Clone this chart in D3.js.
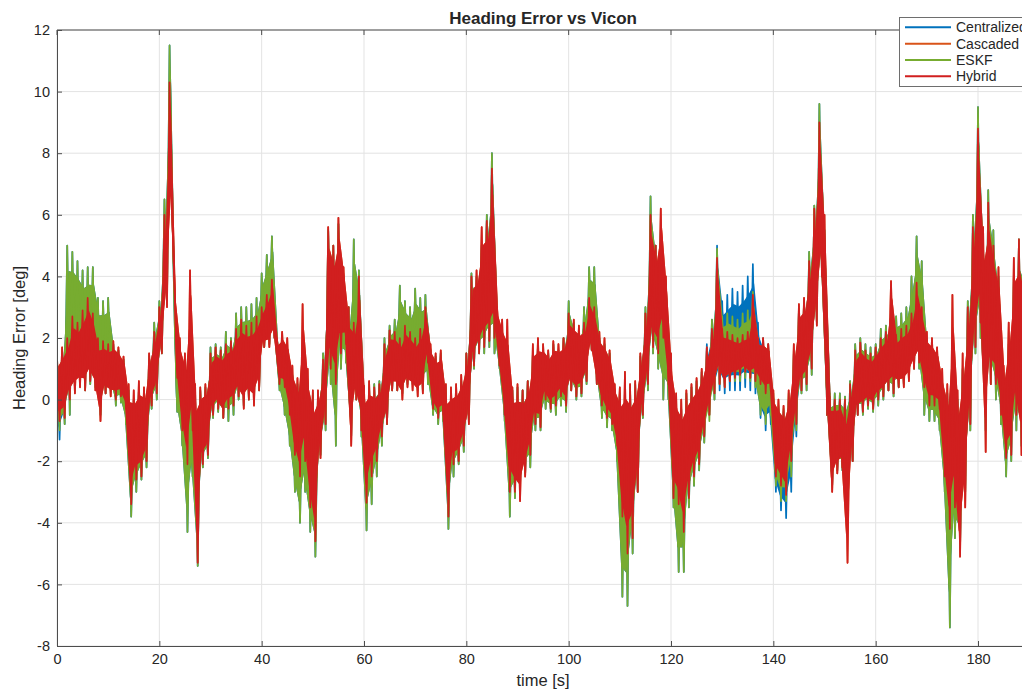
<!DOCTYPE html>
<html>
<head>
<meta charset="utf-8">
<script src="https://cdn.jsdelivr.net/npm/d3@7"></script>
<style>
  body { margin: 0; background: #fff; }
  text { font-family: "Liberation Sans", Arial, Helvetica, sans-serif; }
</style>
</head>
<body>
<div id="chart"></div>
<script>
// per-second envelopes (deg), t = 0..189 s
// hi is hit at the start of each second, lo half a second later
var seriesNames = ["Centralized", "Cascaded", "ESKF", "Hybrid"];
var seriesColors = ["#0072BD", "#D95319", "#77AC30", "#D11F1F"];
var xTicks = [0, 20, 40, 60, 80, 100, 120, 140, 160, 180];
var yTicks = [-8, -6, -4, -2, 0, 2, 4, 6, 8, 10, 12];

var hybridHi = [
  1.4, 1.7, 2.0, 2.7, 2.5, 2.9, 3.3, 2.8, 2.0, 1.9,
  1.8, 1.9, 1.7, 1.4, 0.5, 0.3, 0.6, 0.4, 1.5, 2.2,
  3.0, 6.0, 10.3, 3.6, 2.0, 1.5, 4.2, 0.5, 0.4, 0.5,
  1.5, 1.7, 1.6, 1.8, 1.9, 2.3, 2.6, 2.4, 2.5, 2.7,
  3.0, 3.4, 3.9, 2.0, 2.2, 2.0, 1.1, 0.7, 3.1, 1.0,
  0.3, 0.3, 1.3, 5.6, 5.0, 5.9, 4.3, 3.0, 2.5, 4.0,
  0.45, 0.6, 0.4, 0.5, 1.8, 2.25, 2.2, 2.0, 2.4, 2.2,
  2.0, 2.3, 3.0, 1.8, 1.5, 1.6, 0.5, 0.4, 0.5, 0.8,
  1.5, 4.0, 4.2, 5.6, 5.8, 7.5, 3.0, 2.6, 2.6, 0.4,
  0.5, 0.3, 0.6, 1.8, 2.0, 1.8, 1.6, 1.9, 1.8, 2.0,
  2.8, 2.6, 2.4, 2.5, 3.3, 3.0, 2.2, 2.0, 1.6, 0.5,
  0.4, 0.9, 0.5, 0.6, 1.5, 2.8, 6.0, 5.0, 6.2, 4.0,
  1.5, 0.2, 0.0, 0.3, 0.5, 0.7, 1.0, 1.7, 2.3, 4.6,
  2.3, 2.2, 2.1, 2.0, 2.1, 2.2, 3.4, 2.0, 2.0, 1.8,
  0.3, 0.0, -0.2, 0.3, 1.8, 3.1, 3.3, 4.5, 6.2, 9.0,
  6.0, 0.1, 0.0, 0.0, 0.0, 0.5, 1.6, 1.85, 1.6, 1.5,
  1.7, 2.0, 2.2, 3.85, 2.1, 2.3, 2.4, 2.8, 3.8, 3.0,
  2.2, 2.0, 1.7, 1.0, 0.5, 3.4, 0.3, 1.5, 3.0, 5.6,
  8.8, 5.6, 6.4, 5.0, 4.3, 1.1, 2.5, 4.6, 5.2, 4.0
];
var hybridLo = [
  -0.7, -0.6, 0.0, 0.2, 0.4, 0.3, 0.6, 0.3, -0.7, 0.2,
  0.1, 0.0, 0.1, -0.3, -3.4, -2.6, -2.5, -2.0, -0.2, 0.2,
  1.5, 3.0, 6.0, 0.7, -1.0, -2.1, -1.0, -5.3, -2.1, -1.8,
  -0.5, -0.3, -0.6, -0.3, -0.2, 0.1, -0.3, 0.0, -0.2, 0.3,
  1.7, 1.7, 2.0, 0.5, 0.4, -0.5, -1.8, -2.5, -2.0, -3.5,
  -4.6, -1.9, -0.8, 1.0, 0.5, 1.5, 1.8, -1.5, 0.0, -1.0,
  -3.35, -2.5, -2.0, -1.2, -0.8, 0.3, 0.3, 0.0, 0.4, 0.3,
  0.1, 0.2, 1.2, -0.3, -0.6, -0.5, -3.8, -2.1, -2.0, -1.5,
  -0.8, 1.1, 1.5, 1.7, 1.9, 2.0, 1.1, -0.5, -3.0, -3.0,
  -3.3, -2.5, -1.8, -0.8, -0.9, 0.0, -0.3, -0.2, 0.1, -0.2,
  0.3, 0.1, 0.2, 0.6, 1.6, 0.5, -0.2, -0.6, -0.8, -1.5,
  -3.8, -5.0, -4.5, -3.0, -0.5, 0.5, 1.7, 1.5, 2.0, 0.5,
  -3.2, -3.4, -4.3, -3.2, -2.5, -2.1, -1.2, -0.5, 0.2, 0.5,
  0.4, 0.6, 0.7, 0.8, 0.9, 0.7, 0.6, 0.5, 0.2, 0.3,
  -2.5, -2.8, -3.1, -2.0, -0.8, 0.3, 0.5, 1.0, 2.4, 4.0,
  -0.5, -3.0, -2.4, -2.2, -5.3, -2.0, -0.5, -0.4, -0.2, -0.3,
  0.0, 0.1, 0.3, 0.2, 0.4, 0.4, 0.6, 1.0, 1.2, 0.4,
  -0.2, -0.2, -0.3, -2.5, -4.2, -3.5, -5.1, -3.5, -0.8, 1.7,
  2.5, -1.7, 0.5, 0.5, -0.5, -1.9, -1.8, -0.5, -1.8, -1.0
];

var eskfHi = [
  1.3, 1.6, 5.0, 4.8, 4.5, 4.2, 4.3, 4.3, 3.3, 3.2,
  3.3, 1.8, 1.6, 1.3, 0.3, 0.0, 0.3, 0.2, 1.4, 2.5,
  3.2, 6.5, 11.5, 2.5, 1.5, 1.0, 0.5, 0.2, 0.3, 0.4,
  1.7, 1.8, 1.7, 2.2, 2.0, 2.8, 3.0, 3.0, 3.1, 3.3,
  4.1, 4.7, 5.3, 2.0, 1.8, 1.5, 0.8, 0.5, 1.0, 0.5,
  0.2, 0.2, 1.5, 5.5, 5.0, 5.7, 4.0, 3.0, 5.2, 4.2,
  0.3, 0.4, 0.5, 0.6, 2.0, 2.4, 2.6, 3.7, 3.2, 3.0,
  3.6, 3.3, 3.4, 1.6, 1.4, 1.5, 0.4, 0.2, 0.3, 0.6,
  1.5, 4.1, 4.0, 5.0, 6.0, 8.0, 2.5, 2.0, 1.5, 0.3,
  0.4, 0.3, 0.6, 1.5, 1.8, 1.6, 1.5, 1.8, 1.6, 2.0,
  3.2, 2.5, 2.2, 3.0, 4.3, 4.3, 2.0, 1.8, 1.5, 0.3,
  0.2, 0.5, 0.4, 0.5, 1.4, 3.0, 6.6, 5.0, 5.5, 3.8,
  1.0, -0.2, -0.3, 0.2, 0.4, 0.6, 0.9, 1.6, 2.6, 4.9,
  2.7, 2.8, 2.7, 2.6, 2.8, 2.9, 3.5, 2.0, 1.8, 1.6,
  0.2, -0.2, -0.3, 0.2, 1.6, 3.0, 3.2, 4.8, 6.3, 9.6,
  5.5, 0.2, 0.2, 0.2, 0.1, 0.6, 1.8, 2.0, 1.8, 1.7,
  1.8, 2.3, 2.4, 2.8, 2.7, 2.8, 3.0, 4.0, 5.3, 4.5,
  1.8, 1.7, 1.5, 0.5, 0.2, 0.8, 0.0, 1.0, 3.2, 6.0,
  9.5, 5.0, 6.8, 5.5, 4.0, 0.8, 1.8, 4.0, 5.2, 4.5
];
var eskfLo = [
  -1.0, -0.8, -0.5, 0.3, 0.5, 0.3, 0.5, 0.4, -0.5, 0.2,
  0.3, -0.2, -0.1, -0.8, -3.8, -3.0, -2.6, -2.2, -0.3, 0.0,
  1.5, 3.2, 6.5, -0.4, -1.5, -4.3, -2.5, -5.4, -2.2, -1.9,
  -0.6, -0.4, -0.6, -0.7, -0.5, 0.0, -0.2, 0.0, 0.0, 0.3,
  1.7, 1.8, 2.0, 0.3, -0.5, -1.5, -3.0, -4.0, -3.0, -4.3,
  -5.1, -1.8, -1.0, 0.5, -1.5, 1.0, 1.2, -1.2, 0.0, -1.2,
  -4.25, -3.4, -2.5, -1.5, -0.8, 0.3, 0.3, 0.2, 0.5, 0.5,
  0.3, 0.3, 0.5, -0.5, -0.8, -0.7, -4.2, -2.5, -2.1, -1.7,
  -0.7, 1.0, 1.5, 1.5, 1.7, 1.5, 1.0, -0.7, -3.8, -3.2,
  -2.8, -2.4, -2.2, -1.0, -1.0, -0.3, -0.4, -0.5, -0.2, -0.4,
  0.3, 0.0, 0.1, 0.5, 1.6, 0.5, -0.6, -0.9, -1.0, -2.0,
  -6.4, -6.7, -5.0, -3.0, -0.6, 0.3, 1.5, 1.0, 0.0, 0.0,
  -3.5, -5.6, -5.6, -3.5, -2.8, -2.3, -1.4, -0.7, 0.0, 0.5,
  0.4, 0.6, 0.6, 0.6, 0.7, 0.6, 0.4, -0.5, -0.8, -0.5,
  -2.8, -3.3, -3.3, -2.5, -1.0, 0.2, 0.3, 0.8, 2.5, 4.0,
  -0.5, -2.8, -2.3, -2.3, -3.0, -2.0, -0.5, -0.5, -0.3, -0.4,
  -0.2, 0.0, 0.3, 0.1, 0.4, 0.5, 0.8, 1.0, 1.0, -0.5,
  -0.7, -0.7, -1.0, -3.0, -7.4, -4.5, -4.8, -3.0, -1.0, 1.5,
  2.0, -1.0, 0.5, 0.0, -0.8, -2.5, -2.0, -1.0, -1.5, -1.0
];

// Centralized is hidden under ESKF except near t=0 and 127-144 s
var centralizedHi = [
  1.3, 1.6, 5.0, 4.8, 4.5, 4.2, 4.3, 4.3, 3.3, 3.2,
  3.3, 1.8, 1.6, 1.3, 0.3, 0.0, 0.3, 0.2, 1.4, 2.5,
  3.2, 6.5, 11.5, 2.5, 1.5, 1.0, 0.5, 0.2, 0.3, 0.4,
  1.7, 1.8, 1.7, 2.2, 2.0, 2.8, 3.0, 3.0, 3.1, 3.3,
  4.1, 4.7, 5.3, 2.0, 1.8, 1.5, 0.8, 0.5, 1.0, 0.5,
  0.2, 0.2, 1.5, 5.5, 5.0, 5.7, 4.0, 3.0, 5.2, 4.2,
  0.3, 0.4, 0.5, 0.6, 2.0, 2.4, 2.6, 3.7, 3.2, 3.0,
  3.6, 3.3, 3.4, 1.6, 1.4, 1.5, 0.4, 0.2, 0.3, 0.6,
  1.5, 4.1, 4.0, 5.0, 6.0, 8.0, 2.5, 2.0, 1.5, 0.3,
  0.4, 0.3, 0.6, 1.5, 1.8, 1.6, 1.5, 1.8, 1.6, 2.0,
  3.2, 2.5, 2.2, 3.0, 4.3, 4.3, 2.0, 1.8, 1.5, 0.3,
  0.2, 0.5, 0.4, 0.5, 1.4, 3.0, 6.6, 5.0, 5.5, 3.8,
  1.0, -0.2, -0.3, 0.2, 0.4, 0.6, 0.9, 1.8, 2.6, 5.0,
  3.2, 3.4, 3.6, 3.5, 3.7, 4.0, 4.4, 2.5, 2.0, 1.8,
  0.0, -0.3, -0.4, 0.0, 1.5, 3.0, 3.2, 4.8, 6.3, 9.6,
  5.5, 0.2, 0.2, 0.2, 0.1, 0.6, 1.8, 2.0, 1.8, 1.7,
  1.8, 2.3, 2.4, 2.8, 2.7, 2.8, 3.0, 4.0, 5.3, 4.5,
  1.8, 1.7, 1.5, 0.5, 0.2, 0.8, 0.0, 1.0, 3.2, 6.0,
  9.5, 5.0, 6.8, 5.5, 4.0, 0.8, 1.8, 4.0, 5.2, 4.5
];
var centralizedLo = [
  -1.3, -0.8, -0.5, 0.3, 0.5, 0.3, 0.5, 0.4, -0.5, 0.2,
  0.3, -0.2, -0.1, -0.8, -3.8, -3.0, -2.6, -2.2, -0.3, 0.0,
  1.5, 3.2, 6.5, -0.4, -1.5, -4.3, -2.5, -5.4, -2.2, -1.9,
  -0.6, -0.4, -0.6, -0.7, -0.5, 0.0, -0.2, 0.0, 0.0, 0.3,
  1.7, 1.8, 2.0, 0.3, -0.5, -1.5, -3.0, -4.0, -3.0, -4.3,
  -5.1, -1.8, -1.0, 0.5, -1.5, 1.0, 1.2, -1.2, 0.0, -1.2,
  -4.25, -3.4, -2.5, -1.5, -0.8, 0.3, 0.3, 0.2, 0.5, 0.5,
  0.3, 0.3, 0.5, -0.5, -0.8, -0.7, -4.2, -2.5, -2.1, -1.7,
  -0.7, 1.0, 1.5, 1.5, 1.7, 1.5, 1.0, -0.7, -3.8, -3.2,
  -2.8, -2.4, -2.2, -1.0, -1.0, -0.3, -0.4, -0.5, -0.2, -0.4,
  0.3, 0.0, 0.1, 0.5, 1.6, 0.5, -0.6, -0.9, -1.0, -2.0,
  -6.4, -6.7, -5.0, -3.0, -0.6, 0.3, 1.5, 1.0, 0.0, 0.0,
  -3.5, -5.6, -5.6, -3.5, -2.8, -2.3, -1.4, -0.5, 0.0, 0.3,
  0.2, 0.3, 0.3, 0.3, 0.4, 0.3, 0.2, -0.6, -1.0, -0.8,
  -3.0, -3.6, -3.85, -3.0, -1.2, 0.2, 0.3, 0.8, 2.5, 4.0,
  -0.5, -2.8, -2.3, -2.3, -3.0, -2.0, -0.5, -0.5, -0.3, -0.4,
  -0.2, 0.0, 0.3, 0.1, 0.4, 0.5, 0.8, 1.0, 1.0, -0.5,
  -0.7, -0.7, -1.0, -3.0, -7.4, -4.5, -4.8, -3.0, -1.0, 1.5,
  2.0, -1.0, 0.5, 0.0, -0.8, -2.5, -2.0, -1.0, -1.5, -1.0
];

// Cascaded sits under Hybrid for the whole run
var cascadedHi = [
  1.4, 1.7, 2.0, 2.7, 2.5, 2.9, 3.3, 2.8, 2.0, 1.9,
  1.8, 1.9, 1.7, 1.4, 0.5, 0.3, 0.6, 0.4, 1.5, 2.2,
  3.0, 6.0, 10.3, 3.6, 2.0, 1.5, 4.2, 0.5, 0.4, 0.5,
  1.5, 1.7, 1.6, 1.8, 1.9, 2.3, 2.6, 2.4, 2.5, 2.7,
  3.0, 3.4, 3.9, 2.0, 2.2, 2.0, 1.1, 0.7, 3.1, 1.0,
  0.3, 0.3, 1.3, 5.6, 5.0, 5.9, 4.3, 3.0, 2.5, 4.0,
  0.45, 0.6, 0.4, 0.5, 1.8, 2.25, 2.2, 2.0, 2.4, 2.2,
  2.0, 2.3, 3.0, 1.8, 1.5, 1.6, 0.5, 0.4, 0.5, 0.8,
  1.5, 4.0, 4.2, 5.6, 5.8, 7.5, 3.0, 2.6, 2.6, 0.4,
  0.5, 0.3, 0.6, 1.8, 2.0, 1.8, 1.6, 1.9, 1.8, 2.0,
  2.8, 2.6, 2.4, 2.5, 3.3, 3.0, 2.2, 2.0, 1.6, 0.5,
  0.4, 0.9, 0.5, 0.6, 1.5, 2.8, 6.0, 5.0, 6.2, 4.0,
  1.5, 0.2, 0.0, 0.3, 0.5, 0.7, 1.0, 1.7, 2.3, 4.6,
  2.3, 2.2, 2.1, 2.0, 2.1, 2.2, 3.4, 2.0, 2.0, 1.8,
  0.3, 0.0, -0.2, 0.3, 1.8, 3.1, 3.3, 4.5, 6.2, 9.0,
  6.0, 0.1, 0.0, 0.0, 0.0, 0.5, 1.6, 1.85, 1.6, 1.5,
  1.7, 2.0, 2.2, 3.85, 2.1, 2.3, 2.4, 2.8, 3.8, 3.0,
  2.2, 2.0, 1.7, 1.0, 0.5, 3.4, 0.3, 1.5, 3.0, 5.6,
  8.8, 5.6, 6.4, 5.0, 4.3, 1.1, 2.5, 4.6, 5.2, 4.0
];
var cascadedLo = [
  -0.7, -0.6, 0.0, 0.2, 0.4, 0.3, 0.6, 0.3, -0.7, 0.2,
  0.1, 0.0, 0.1, -0.3, -3.4, -2.6, -2.5, -2.0, -0.2, 0.2,
  1.5, 3.0, 6.0, 0.7, -1.0, -2.1, -1.0, -5.3, -2.1, -1.8,
  -0.5, -0.3, -0.6, -0.3, -0.2, 0.1, -0.3, 0.0, -0.2, 0.3,
  1.7, 1.7, 2.0, 0.5, 0.4, -0.5, -1.8, -2.5, -2.0, -3.5,
  -4.6, -1.9, -0.8, 1.0, 0.5, 1.5, 1.8, -1.5, 0.0, -1.0,
  -3.35, -2.5, -2.0, -1.2, -0.8, 0.3, 0.3, 0.0, 0.4, 0.3,
  0.1, 0.2, 1.2, -0.3, -0.6, -0.5, -3.8, -2.1, -2.0, -1.5,
  -0.8, 1.1, 1.5, 1.7, 1.9, 2.0, 1.1, -0.5, -3.0, -3.0,
  -3.3, -2.5, -1.8, -0.8, -0.9, 0.0, -0.3, -0.2, 0.1, -0.2,
  0.3, 0.1, 0.2, 0.6, 1.6, 0.5, -0.2, -0.6, -0.8, -1.5,
  -3.8, -5.0, -4.5, -3.0, -0.5, 0.5, 1.7, 1.5, 2.0, 0.5,
  -3.2, -3.4, -4.3, -3.2, -2.5, -2.1, -1.2, -0.5, 0.2, 0.5,
  0.4, 0.6, 0.7, 0.8, 0.9, 0.7, 0.6, 0.5, 0.2, 0.3,
  -2.5, -2.8, -3.1, -2.0, -0.8, 0.3, 0.5, 1.0, 2.4, 4.0,
  -0.5, -3.0, -2.4, -2.2, -5.3, -2.0, -0.5, -0.4, -0.2, -0.3,
  0.0, 0.1, 0.3, 0.2, 0.4, 0.4, 0.6, 1.0, 1.2, 0.4,
  -0.2, -0.2, -0.3, -2.5, -4.2, -3.5, -5.1, -3.5, -0.8, 1.7,
  2.5, -1.7, 0.5, 0.5, -0.5, -1.9, -1.8, -0.5, -1.8, -1.0
];

function render_chart() {
    var width = 1022, height = 691,
        left = 57, top = 30, bottom = 646;

    var x = d3.scaleLinear().domain([0, 190]).range([left, left + 190 * 5.1167]),
        y = d3.scaleLinear().domain([-8, 12]).range([bottom, top]);
    var right = x(190);

    var svg = d3.select("#chart").append("svg")
        .attr("width", width)
        .attr("height", height);

    svg.append("defs").append("clipPath").attr("id", "plot")
        .append("rect")
        .attr("x", left).attr("y", top)
        .attr("width", right - left).attr("height", bottom - top);

    // grid
    svg.append("g").selectAll("line.gx")
        .data(xTicks).enter().append("line")
        .attr("x1", function (d) { return x(d); })
        .attr("x2", function (d) { return x(d); })
        .attr("y1", top).attr("y2", bottom)
        .style("stroke", "#e3e3e3").style("stroke-width", 1);
    svg.append("g").selectAll("line.gy")
        .data(yTicks).enter().append("line")
        .attr("y1", function (d) { return y(d); })
        .attr("y2", function (d) { return y(d); })
        .attr("x1", left).attr("x2", right)
        .style("stroke", "#e3e3e3").style("stroke-width", 1);

    // each series: noise band between hi/lo, plus the zigzag trace on top
    var all = [
        [centralizedHi, centralizedLo],
        [cascadedHi, cascadedLo],
        [eskfHi, eskfLo],
        [hybridHi, hybridLo]
    ];
    var line = d3.line()
        .x(function (d) { return x(d[0]); })
        .y(function (d) { return y(d[1]); });
    var band = d3.area()
        .x(function (d) { return x(d.t); })
        .y0(function (d) { return y(d.lo); })
        .y1(function (d) { return y(d.hi); });

    var plot = svg.append("g").attr("clip-path", "url(#plot)");
    all.forEach(function (s, k) {
        var pts = [], rows = [];
        s[0].forEach(function (v, i) {
            pts.push([i, v]);
            pts.push([i + 0.5, s[1][i]]);
            rows.push({t: i + 0.25, hi: Math.max(v, s[1][i]) - 0.15 * Math.abs(v - s[1][i]),
                       lo: Math.min(v, s[1][i]) + 0.15 * Math.abs(v - s[1][i])});
        });
        plot.append("path")
            .attr("d", band(rows))
            .style("fill", seriesColors[k])
            .style("stroke", "none");
        plot.append("path")
            .attr("d", line(pts))
            .style("fill", "none")
            .style("stroke", seriesColors[k])
            .style("stroke-width", 1.7)
            .style("stroke-linejoin", "round");
    });

    // axes, ticks pointing inward like matlab
    var xAxis = svg.append("g")
        .attr("transform", "translate(0," + bottom + ")")
        .call(d3.axisBottom(x).tickValues(xTicks).tickSizeInner(-5).tickSizeOuter(0).tickPadding(8)
            .tickFormat(function (d) { return String(d); }));
    var yAxis = svg.append("g")
        .attr("transform", "translate(" + left + ",0)")
        .call(d3.axisLeft(y).tickValues(yTicks).tickSizeInner(-5).tickSizeOuter(0).tickPadding(7)
            .tickFormat(function (d) { return String(d); }));
    [xAxis, yAxis].forEach(function (a) {
        a.select(".domain").style("stroke", "#4d4d4d");
        a.selectAll(".tick line").style("stroke", "#4d4d4d");
        a.selectAll(".tick text").style("fill", "#262626").style("font-size", "14.5px")
            .style("font-family", '"Liberation Sans", Arial, sans-serif');
    });

    // top box line with mirrored ticks
    svg.append("line")
        .attr("x1", left).attr("x2", right).attr("y1", top).attr("y2", top)
        .style("stroke", "#4d4d4d");
    svg.append("g").selectAll("line")
        .data(xTicks).enter().append("line")
        .attr("x1", function (d) { return x(d); })
        .attr("x2", function (d) { return x(d); })
        .attr("y1", top).attr("y2", top + 5)
        .style("stroke", "#4d4d4d");

    // labels
    svg.append("text")
        .attr("x", (left + right) / 2).attr("y", 24)
        .style("text-anchor", "middle").style("font-weight", "bold")
        .style("font-size", "17px").style("fill", "#262626")
        .text("Heading Error vs Vicon");
    svg.append("text")
        .attr("x", (left + right) / 2).attr("y", 686)
        .style("text-anchor", "middle")
        .style("font-size", "16.5px").style("fill", "#262626")
        .text("time [s]");
    svg.append("text")
        .attr("transform", "translate(25," + ((top + bottom) / 2) + ") rotate(-90)")
        .style("text-anchor", "middle")
        .style("font-size", "16.5px").style("fill", "#262626")
        .text("Heading Error [deg]");

    // legend (runs off the right edge, as in the original figure)
    var legend = svg.append("g");
    legend.append("rect")
        .attr("x", 899.5).attr("y", 17.5)
        .attr("width", 140).attr("height", 69)
        .style("fill", "#fff").style("stroke", "#6e6e6e").style("stroke-width", 1);
    var rows = legend.selectAll("g.row")
        .data(seriesNames).enter().append("g")
        .attr("transform", function (d, i) { return "translate(0," + [27.3, 43.7, 60, 76.3][i] + ")"; });
    rows.append("line")
        .attr("x1", 905).attr("x2", 951)
        .style("stroke", function (d, i) { return seriesColors[i]; })
        .style("stroke-width", 2);
    rows.append("text")
        .attr("x", 956).attr("dy", "0.35em")
        .style("font-size", "14px").style("fill", "#262626")
        .text(function (d) { return d; });
}

render_chart();
</script>
</body>
</html>
